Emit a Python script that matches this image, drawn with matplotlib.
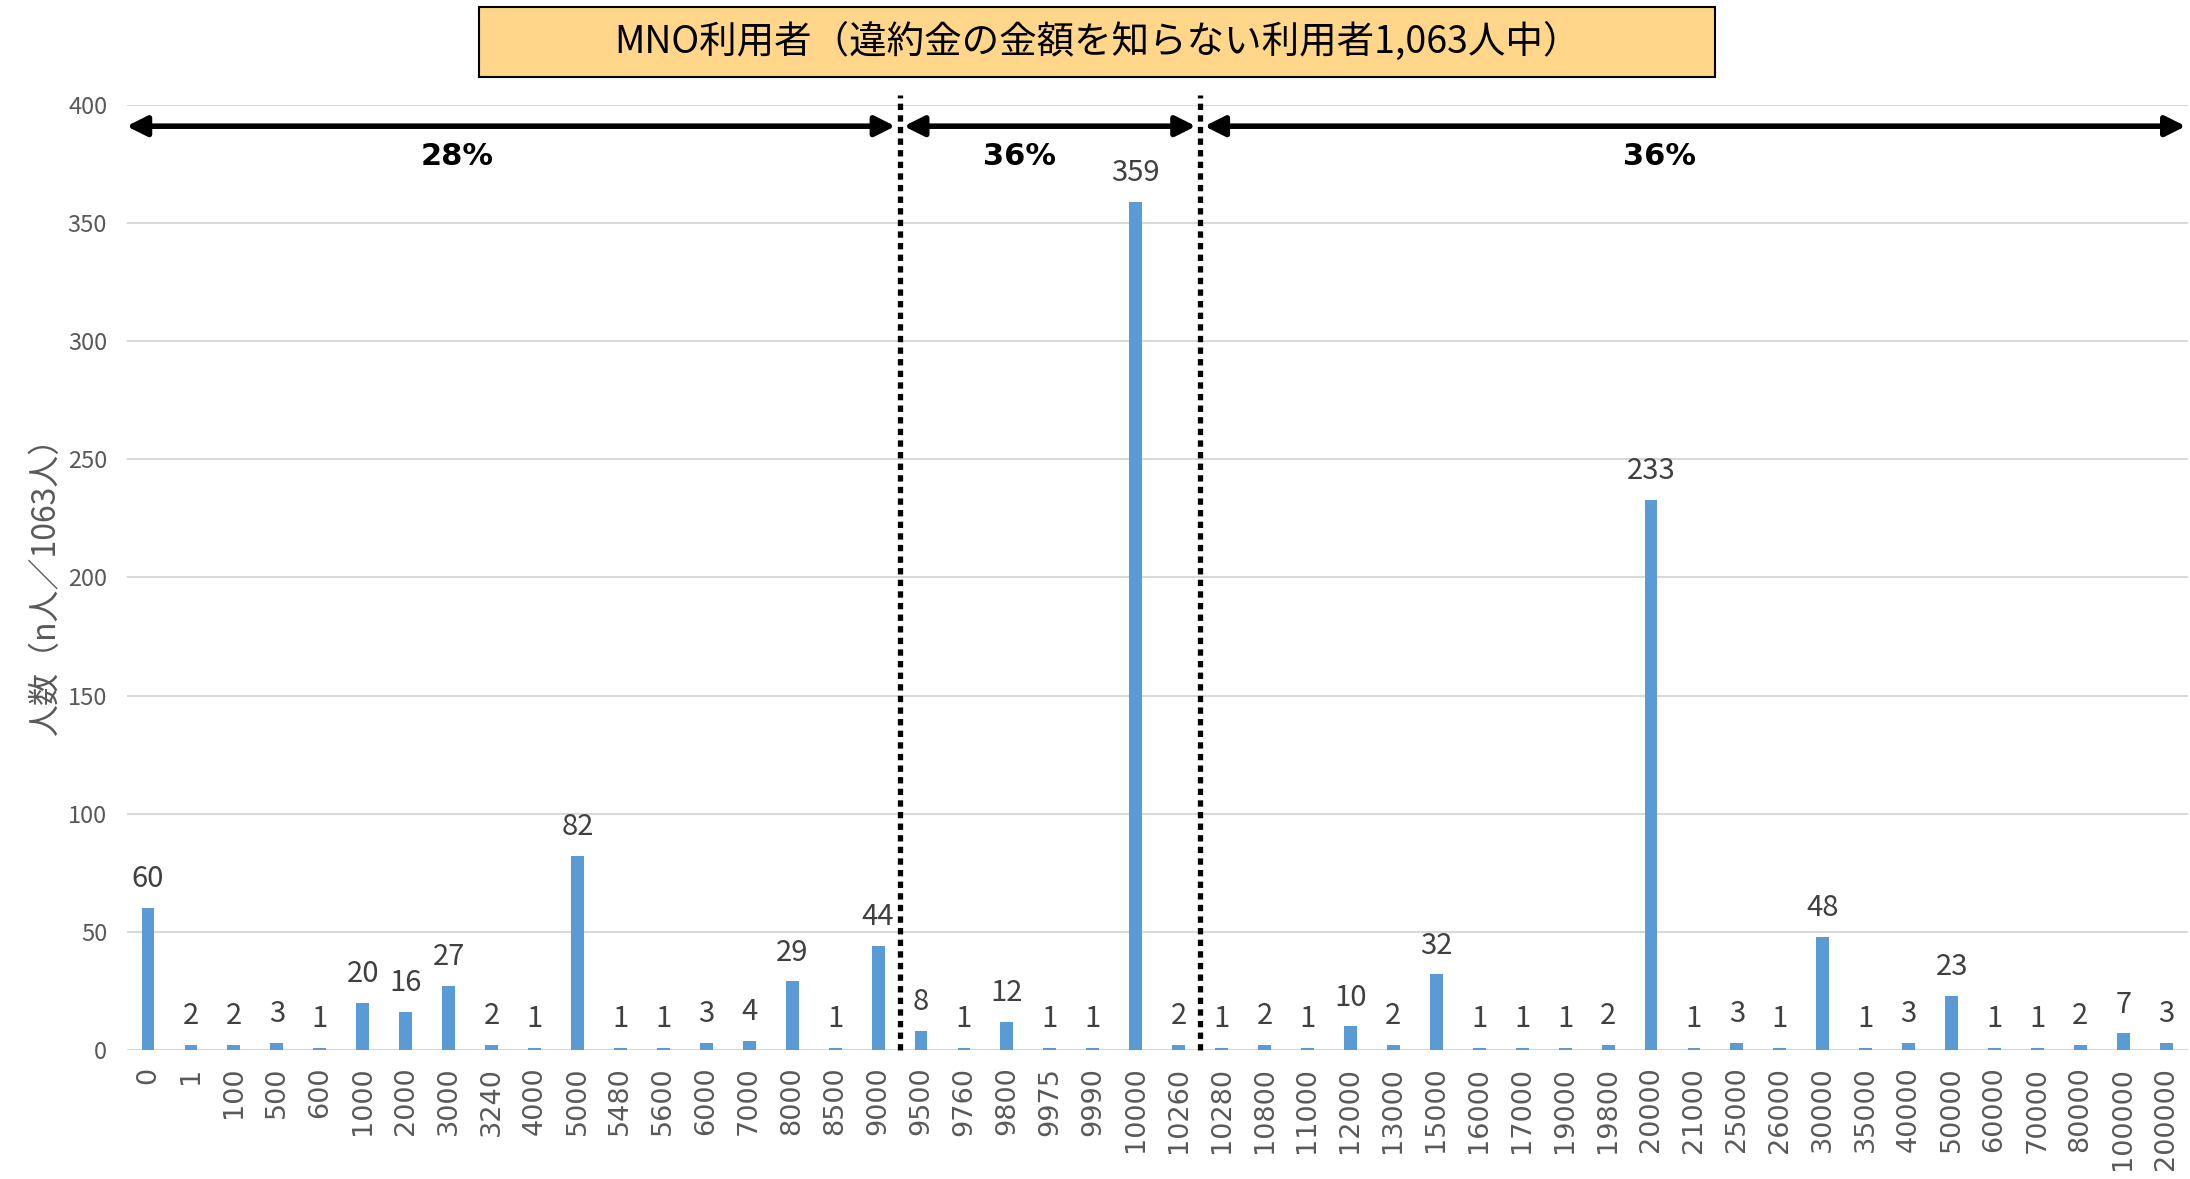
# MNO users: distribution of assumed cancellation fee (1,063 people)
import matplotlib.pyplot as plt
from matplotlib.patches import Rectangle

plt.rcParams['font.family'] = ['Noto Sans CJK JP', 'DejaVu Sans']

# Data
categories = ['0', '1', '100', '500', '600', '1000', '2000', '3000', '3240', '4000',
              '5000', '5480', '5600', '6000', '7000', '8000', '8500', '9000', '9500', '9760',
              '9800', '9975', '9990', '10000', '10260', '10280', '10800', '11000', '12000', '13000',
              '15000', '16000', '17000', '19000', '19800', '20000', '21000', '25000', '26000', '30000',
              '35000', '40000', '50000', '60000', '70000', '80000', '100000', '200000']
counts = [60, 2, 2, 3, 1, 20, 16, 27, 2, 1,
          82, 1, 1, 3, 4, 29, 1, 44, 8, 1,
          12, 1, 1, 359, 2, 1, 2, 1, 10, 2,
          32, 1, 1, 1, 2, 233, 1, 3, 1, 48,
          1, 3, 23, 1, 1, 2, 7, 3]
y_ticks = [0, 50, 100, 150, 200, 250, 300, 350, 400]

# group boundaries (between 9000|9500 and 10260|10280) and shares
split_after = ['9000', '10260']
shares = ['28%', '36%', '36%']
share_x = [7.2, 20.3, 35.2]  # label positions (x, in category units)

fig = plt.figure(figsize=(21.9, 11.79), dpi=100)
ax = fig.add_axes([0.0578, 0.1094, 0.9412, 0.8016])

x = list(range(len(categories)))
bars = ax.bar(x, counts, width=0.3, color='#5B9BD5', zorder=3)

# value labels
for xi, v in zip(x, counts):
    ax.annotate(str(v), (xi, v), xytext=(0, 10), textcoords='offset points',
                ha='center', va='bottom', fontsize=21, color='#404040')

ax.set_xlim(-0.5, len(categories) - 0.5)
ax.set_ylim(0, 400)
ax.set_yticks(y_ticks)
ax.set_xticks(x)
ax.set_xticklabels(categories, rotation=90, fontsize=19.5, color='#595959',
                   family='DejaVu Sans')
ax.tick_params(axis='y', labelsize=17, labelcolor='#595959', length=0, pad=14)
ax.tick_params(axis='x', length=0, pad=12)
ax.grid(axis='y', color='#D9D9D9', linewidth=1.5, zorder=0)
for s in ax.spines.values():
    s.set_visible(False)

ax.set_ylabel('人数（n人／1063人）', fontsize=23, color='#595959', labelpad=4)

# dotted separators
bounds = [categories.index(c) + 0.5 for c in split_after]
for b in bounds:
    ax.plot([b, b], [0, 404], color='black', linestyle=(0, (1.2, 1.0)),
            linewidth=3.8, clip_on=False, zorder=4)

# double-headed arrows with shares
edges = [-0.5] + bounds + [len(categories) - 0.5]
arrow_y = 391
for i, txt in enumerate(shares):
    x0, x1 = edges[i] + 0.1, edges[i + 1] - 0.1
    if i == 0:
        x0 = edges[0]
    if i == len(shares) - 1:
        x1 = edges[-1] - 0.05
    ax.annotate('', xy=(x1, arrow_y), xytext=(x0, arrow_y),
                arrowprops=dict(arrowstyle='<|-|>', color='black', lw=4,
                                mutation_scale=30, shrinkA=0, shrinkB=0),
                annotation_clip=False, zorder=5)
    ax.text(share_x[i], 378, txt, ha='center', va='center',
            fontsize=22, fontweight='bold', family='DejaVu Sans', color='black')

# title box
fig.patches.append(Rectangle((0.2187, 0.9347), 0.5644, 0.0594, transform=fig.transFigure,
                             facecolor='#FFD68A', edgecolor='black', linewidth=1.5))
fig.text(0.501, 0.9644, 'MNO利用者（違約金の金額を知らない利用者1,063人中）',
         ha='center', va='center', fontsize=27, color='black')

fig.savefig('out.png', dpi=100)
